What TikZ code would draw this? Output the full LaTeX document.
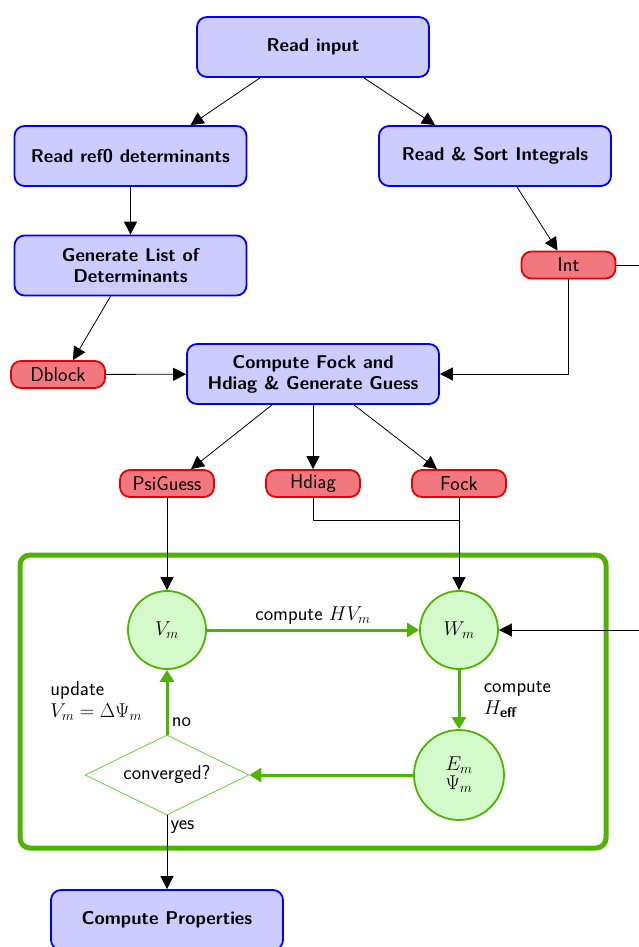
\RequirePackage{fix-cm}
\documentclass[tikz,border=0pt]{standalone}
\usepackage{amsmath}
\usetikzlibrary{arrows.meta,shapes.geometric,calc}
\definecolor{boxfill}{RGB}{204,204,255}
\definecolor{datafill}{RGB}{242,120,128}
\definecolor{datadraw}{RGB}{230,0,0}
\definecolor{loopgreen}{RGB}{78,180,0}
\definecolor{circfill}{RGB}{212,250,204}
\definecolor{diamgreen}{RGB}{110,205,60}
\begin{document}
\begin{tikzpicture}[x=1pt,y=-1pt,
  font=\sffamily\fontsize{20}{22}\selectfont,
  procbox/.style={draw=blue,fill=boxfill,line width=1.8pt,rounded corners=10pt,
    minimum width=232pt,minimum height=60pt,align=center,
    font=\sffamily\bfseries\fontsize{18.5}{21}\selectfont},
  databox/.style={draw=datadraw,fill=datafill,line width=1.8pt,rounded corners=10pt,
    minimum width=94pt,minimum height=27pt,inner sep=0pt},
  statecirc/.style={circle,draw=loopgreen,fill=circfill,line width=1.8pt,
    minimum size=78pt,inner sep=0pt,align=center},
  testdiam/.style={diamond,draw=diamgreen,line width=0.8pt,minimum width=164pt,
    minimum height=80pt,aspect=2,inner sep=0pt},
  flow/.style={-{Triangle[length=13pt,width=13pt]},line width=0.8pt},
  loopflow/.style={-{Triangle[length=12pt,width=14pt]},line width=3pt,draw=loopgreen,color=loopgreen},
  ]
\useasboundingbox (0,0) rectangle (638,947);
% loop frame
\node[draw=loopgreen,line width=5pt,rounded corners=10pt,minimum width=586pt,
  minimum height=293pt] (loopframe) at (313,701.5) {};
% process boxes
\node[procbox] (readin) at (313,47) {Read input};
\node[procbox] (readref) at (130.5,156) {Read ref0 determinants};
\node[procbox] (readint) at (495,156) {Read \& Sort Integrals};
\node[procbox] (genlist) at (130.5,265.5) {Generate List of\\Determinants};
\node[procbox,minimum width=252pt] (fockgen) at (313,374) {Compute Fock and\\Hdiag \& Generate Guess};
\node[procbox] (props) at (167,920) {Compute Properties};
% data
\node[databox] (intd) at (568.5,265) {Int};
\node[databox] (dblock) at (58,374.5) {Dblock};
\node[databox] (psig) at (167,483.5) {PsiGuess};
\node[databox] (hdiag) at (313,483.5) {Hdiag};
\node[databox] (fock) at (459,483.5) {Fock};
% loop
\node[statecirc] (Vm) at (167,630) {$V_m$};
\node[statecirc] (Wm) at (459,630) {$W_m$};
\node[statecirc,minimum size=90pt] (Em) at (459,775) {$E_m$\\[-3pt]$\Psi_m$};
\node[testdiam] (conv) at (167,775) {converged?};
\coordinate (join) at (459,520);
\coordinate (rightrail) at (680,450);
% connectors
\draw[flow] ([xshift=-53pt]readin.south) -- ([xshift=60pt]readref.north);
\draw[flow] ([xshift=51pt]readin.south) -- ([xshift=-60pt]readint.north);
\draw[flow] (readref) -- (genlist);
\draw[flow] ([xshift=22pt]readint.south) -- ([xshift=-11pt]intd.north);
\draw[flow] ([xshift=-20pt]genlist.south) -- ([xshift=15pt]dblock.north);
\draw[flow] (dblock) -- (fockgen);
\draw[flow] (intd.south) |- (fockgen.east);
\draw[flow] (intd.east) -| (rightrail) |- (Wm.east);
\draw[flow] ([xshift=-41pt]fockgen.south) -- ([xshift=24pt]psig.north);
\draw[flow] (fockgen) -- (hdiag);
\draw[flow] ([xshift=41pt]fockgen.south) -- ([xshift=-22pt]fock.north);
\draw[flow] (psig) -- (Vm);
\draw[line width=0.8pt] (hdiag.south) |- (join);
\draw[flow] (fock) -- (Wm);
\draw[loopflow] (Vm) -- node[above=1pt,text=black] {compute $HV_m$} (Wm);
\draw[loopflow] (Wm) -- node[right,xshift=20pt,align=left,text=black] {compute\\$H_{\textbf{eff}}$} (Em);
\draw[loopflow] (Em) -- (conv);
\draw[loopflow] (conv) -- node[right,pos=0.2,text=black] {no}
  node[left,pos=0.52,xshift=-20pt,align=left,text=black] {update\\$V_m=\Delta\Psi_m$} (Vm);
\draw[flow] (conv) -- node[right,pos=0.16] {yes} (props);
\end{tikzpicture}
\end{document}
